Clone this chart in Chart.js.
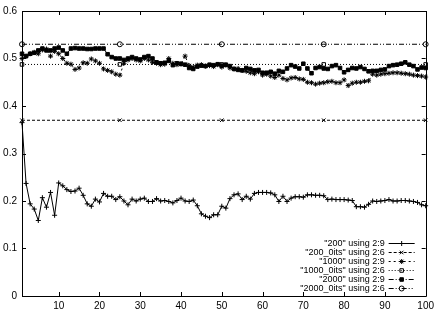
<!DOCTYPE html>
<html>
<head>
<meta charset="utf-8">
<script src="https://cdn.jsdelivr.net/npm/chart.js@4/dist/chart.umd.min.js"></script>
<style>
  html, body { margin: 0; padding: 0; background: #fff; }
  #wrap { width: 438px; height: 314px; }
</style>
</head>
<body>
<div id="wrap"><canvas id="plot"></canvas></div>
<script>
// run numbers (column 2)
var runs = [
  1, 2, 3, 4, 5, 6, 7, 8, 9, 10, 11, 12, 13, 14, 15, 16, 17, 18, 19, 20,
  21, 22, 23, 24, 25, 26, 27, 28, 29, 30, 31, 32, 33, 34, 35, 36, 37, 38, 39, 40,
  41, 42, 43, 44, 45, 46, 47, 48, 49, 50, 51, 52, 53, 54, 55, 56, 57, 58, 59, 60,
  61, 62, 63, 64, 65, 66, 67, 68, 69, 70, 71, 72, 73, 74, 75, 76, 77, 78, 79, 80,
  81, 82, 83, 84, 85, 86, 87, 88, 89, 90, 91, 92, 93, 94, 95, 96, 97, 98, 99, 100
];
// runs for the flat "_0its" files
var runs0 = [1, 25, 50, 75, 100];

// "200" using 2:9
var v200 = [
  0.365, 0.237, 0.194, 0.183, 0.159, 0.207, 0.187, 0.218, 0.170, 0.238,
  0.232, 0.224, 0.220, 0.221, 0.227, 0.212, 0.194, 0.189, 0.204, 0.198,
  0.216, 0.210, 0.210, 0.203, 0.209, 0.200, 0.192, 0.204, 0.200, 0.204,
  0.206, 0.199, 0.199, 0.205, 0.200, 0.201, 0.199, 0.196, 0.201, 0.206,
  0.200, 0.199, 0.202, 0.190, 0.173, 0.168, 0.165, 0.171, 0.171, 0.189,
  0.185, 0.205, 0.213, 0.215, 0.203, 0.210, 0.204, 0.216, 0.218, 0.218,
  0.218, 0.217, 0.213, 0.199, 0.210, 0.199, 0.206, 0.209, 0.209, 0.208,
  0.213, 0.213, 0.212, 0.212, 0.211, 0.203, 0.204, 0.203, 0.203, 0.203,
  0.202, 0.201, 0.188, 0.188, 0.187, 0.193, 0.200, 0.199, 0.200, 0.201,
  0.203, 0.200, 0.200, 0.201, 0.201, 0.200, 0.199, 0.197, 0.192, 0.190
];
// "200_0its" using 2:6
var v200_0 = [0.37, 0.37, 0.37, 0.37, 0.37];

// "1000" using 2:9
var v1000 = [
  0.500, 0.505, 0.510, 0.513, 0.510, 0.518, 0.520, 0.505, 0.515, 0.510,
  0.500, 0.490, 0.488, 0.477, 0.480, 0.491, 0.490, 0.499, 0.495, 0.490,
  0.478, 0.475, 0.472, 0.467, 0.465, 0.490, 0.497, 0.500, 0.497, 0.495,
  0.500, 0.497, 0.492, 0.490, 0.487, 0.488, 0.500, 0.490, 0.487, 0.488,
  0.505, 0.485, 0.482, 0.486, 0.487, 0.484, 0.485, 0.483, 0.487, 0.482,
  0.486, 0.480, 0.478, 0.479, 0.475, 0.473, 0.470, 0.468, 0.472, 0.465,
  0.467, 0.463, 0.460, 0.465, 0.458, 0.455, 0.459, 0.460, 0.457, 0.456,
  0.450, 0.449, 0.446, 0.448, 0.449, 0.451, 0.452, 0.449, 0.449, 0.455,
  0.443, 0.448, 0.450, 0.450, 0.452, 0.453, 0.467, 0.465, 0.467, 0.468,
  0.469, 0.470, 0.470, 0.469, 0.468, 0.467, 0.465, 0.464, 0.463, 0.461
];
// "1000_0its" using 2:6
var v1000_0 = [0.4875, 0.4875, 0.4875, 0.4875, 0.4875];

// "2000" using 2:9
var v2000 = [
  0.510, 0.505, 0.510, 0.512, 0.517, 0.521, 0.517, 0.517, 0.521, 0.523,
  0.517, 0.510, 0.521, 0.522, 0.521, 0.521, 0.520, 0.520, 0.521, 0.521,
  0.521, 0.509, 0.503, 0.500, 0.500, 0.497, 0.500, 0.503, 0.500, 0.498,
  0.503, 0.505, 0.500, 0.492, 0.490, 0.491, 0.495, 0.486, 0.490, 0.489,
  0.487, 0.480, 0.478, 0.483, 0.485, 0.484, 0.487, 0.486, 0.488, 0.485,
  0.487, 0.484, 0.478, 0.476, 0.475, 0.480, 0.478, 0.475, 0.476, 0.470,
  0.470, 0.472, 0.468, 0.474, 0.472, 0.479, 0.486, 0.483, 0.479, 0.489,
  0.479, 0.469, 0.480, 0.482, 0.479, 0.478, 0.484, 0.486, 0.480, 0.471,
  0.476, 0.480, 0.479, 0.482, 0.478, 0.473, 0.474, 0.474, 0.476, 0.477,
  0.484, 0.486, 0.487, 0.489, 0.492, 0.487, 0.484, 0.477, 0.481, 0.480
];
// "2000_0its" using 2:6
var v2000_0 = [0.53, 0.53, 0.53, 0.53, 0.53];

// tick labels
var xTicks = [10, 20, 30, 40, 50, 60, 70, 80, 90, 100];
var yTicks = [0, 0.1, 0.2, 0.3, 0.4, 0.5, 0.6];

var labels = [
  '"200" using 2:9',
  '"200_0its" using 2:6',
  '"1000" using 2:9',
  '"1000_0its" using 2:6',
  '"2000" using 2:9',
  '"2000_0its" using 2:6'
];

function pts(xs, ys) {
  return xs.map(function (x, i) { return { x: x, y: ys[i] }; });
}

var FONT = '"Liberation Sans", Arial, sans-serif';

function series(label, data, style, dash, fill, radius) {
  return {
    label: label,
    data: data,
    borderColor: '#000',
    borderWidth: 1,
    borderDash: dash,
    pointStyle: style,
    pointRadius: radius,
    pointBorderColor: '#000',
    pointBorderWidth: 1,
    pointBackgroundColor: fill ? '#000' : 'rgba(0,0,0,0)',
    pointHoverRadius: radius,
    fill: false,
    tension: 0,
    clip: false
  };
}

// gnuplot style frame, inward ticks on all 4 sides + key in the bottom right
const gnuFrame = {
  id: 'gnuFrame',
  afterDatasetsDraw(chart) {
    const ctx = chart.ctx;
    const a = chart.chartArea;
    const xs = chart.scales.x, ys = chart.scales.y;
    ctx.save();
    ctx.strokeStyle = '#000';
    ctx.lineWidth = 1;
    ctx.setLineDash([]);
    ctx.beginPath();
    ctx.rect(Math.round(a.left) + 0.5, Math.round(a.top) + 0.5,
      Math.round(a.right - a.left), Math.round(a.bottom - a.top));
    ctx.stroke();
    const t = 4;
    ctx.beginPath();
    xTicks.forEach(function (v) {
      const px = Math.round(xs.getPixelForValue(v)) + 0.5;
      ctx.moveTo(px, a.bottom); ctx.lineTo(px, a.bottom - t);
      ctx.moveTo(px, a.top); ctx.lineTo(px, a.top + t);
    });
    yTicks.forEach(function (v) {
      const py = Math.round(ys.getPixelForValue(v)) + 0.5;
      ctx.moveTo(a.left, py); ctx.lineTo(a.left + t, py);
      ctx.moveTo(a.right, py); ctx.lineTo(a.right - t, py);
    });
    ctx.stroke();

    // key
    ctx.font = '9px ' + FONT;
    ctx.textAlign = 'right';
    ctx.textBaseline = 'middle';
    ctx.fillStyle = '#000';
    const n = chart.data.datasets.length;
    chart.data.datasets.forEach(function (ds, i) {
      const y = Math.round(a.bottom - 8 - (n - 1 - i) * 9) + 0.5;
      ctx.fillText(ds.label, a.right - 41, y);
      ctx.beginPath();
      ctx.setLineDash(ds.borderDash || []);
      ctx.moveTo(a.right - 37, y);
      ctx.lineTo(a.right - 11, y);
      ctx.stroke();
      ctx.setLineDash([]);
      ctx.fillStyle = ds.pointBackgroundColor;
      Chart.helpers.drawPoint(ctx, {
        pointStyle: ds.pointStyle, radius: ds.pointRadius, rotation: 0, borderWidth: 1
      }, a.right - 24, y);
      ctx.fillStyle = '#000';
    });
    ctx.restore();
  }
};

const plot = new Chart(document.getElementById('plot').getContext('2d'), {
  type: 'line',
  data: {
    datasets: [
      series(labels[0], pts(runs, v200), 'cross', [], false, 2.5),
      series(labels[1], pts(runs0, v200_0), 'crossRot', [3, 2], false, 2.5),
      series(labels[2], pts(runs, v1000), 'star', [2, 3], false, 2.5),
      series(labels[3], pts(runs0, v1000_0), 'rect', [1, 2], false, 2.5),
      series(labels[4], pts(runs, v2000), 'rect', [5, 2, 1, 2], true, 2.5),
      series(labels[5], pts(runs0, v2000_0), 'circle', [5, 2, 1, 2, 1, 2], false, 2.5)
    ]
  },
  options: {
    responsive: true,
    maintainAspectRatio: false,
    animation: false,
    layout: { padding: { top: 7, right: 8, left: 0, bottom: 0 } },
    plugins: {
      legend: { display: false },
      tooltip: { enabled: false }
    },
    scales: {
      x: {
        type: 'linear',
        min: 1,
        max: 100,
        grid: { display: false, drawTicks: false, tickLength: 0 },
        border: { display: false },
        afterBuildTicks: function (s) { s.ticks = xTicks.map(function (v) { return { value: v }; }); },
        afterFit: function (s) { s.height = 18; },
        ticks: {
          color: '#000',
          padding: 4,
          maxRotation: 0,
          font: { family: FONT, size: 10 }
        }
      },
      y: {
        min: 0,
        max: 0.6,
        grid: { display: false, drawTicks: false, tickLength: 0 },
        border: { display: false },
        afterBuildTicks: function (s) { s.ticks = yTicks.map(function (v) { return { value: v }; }); },
        afterFit: function (s) { s.width = 22; },
        ticks: {
          color: '#000',
          padding: 5,
          font: { family: FONT, size: 10 },
          callback: function (v) { return String(Math.round(v * 10) / 10); }
        }
      }
    }
  },
  plugins: [gnuFrame]
});
</script>
</body>
</html>
